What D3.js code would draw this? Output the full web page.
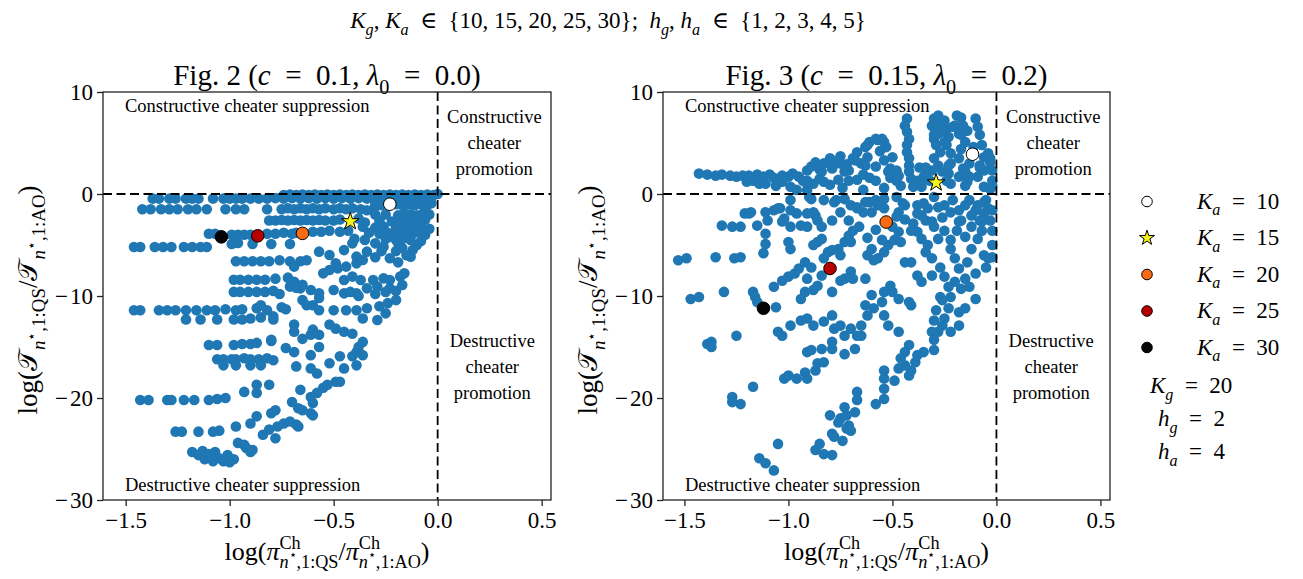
<!DOCTYPE html>
<html>
<head>
<meta charset="utf-8">
<script src="https://cdn.jsdelivr.net/npm/d3@7"></script>
<style>
  body { margin: 0; background: #fff; }
  text { font-family: "Liberation Serif", "DejaVu Serif", serif; fill: #000; }
</style>
</head>
<body>
<svg id="chart" width="1303" height="579"></svg>
<script>
// ---- data ----
const xTicks = [-1.5, -1.0, -0.5, 0.0, 0.5];
const yTicks = [10, 0, -10, -20, -30];

// Fig. 2 blue points (log ratio of cheater fraction, log ratio of T)
const fig2Rows = [
  [-0.74,-0.1],[-0.71,-0.05],[-0.68,-0.1],[-0.65,-0.05],[-0.62,-0.1],[-0.59,-0.05],[-0.56,-0.1],[-0.53,-0.05],[-0.5,-0.1],
  [-0.47,-0.05],[-0.44,-0.1],[-0.41,-0.05],[-0.38,-0.1],[-0.35,-0.05],[-0.32,-0.1],[-0.29,-0.05],[-0.26,-0.1],[-0.23,-0.05],
  [-0.2,-0.1],[-0.17,-0.05],[-0.14,-0.1],[-0.11,-0.05],[-0.08,-0.1],[-0.05,-0.05],[-0.02,-0.1],[0.0,0.0],
  [-1.37,-0.45],[-1.34,-0.45],[-1.29,-0.45],[-1.26,-0.45],[-1.21,-0.45],[-1.18,-0.45],[-1.15,-0.45],[-1.08,-0.45],[-1.03,-0.45],
  [-1.0,-0.45],[-0.97,-0.45],[-0.94,-0.45],[-0.9,-0.45],[-0.86,-0.45],[-0.82,-0.45],[-0.78,-0.4],[-0.74,-0.45],[-0.7,-0.4],
  [-0.66,-0.45],[-0.62,-0.4],[-0.58,-0.45],[-0.54,-0.4],[-0.5,-0.45],[-0.46,-0.4],[-0.42,-0.45],[-0.38,-0.4],[-0.34,-0.45],
  [-0.3,-0.4],[-0.26,-0.5],[-0.19,-0.5],[-0.15,-0.4],[-0.11,-0.5],[-0.07,-0.4],[-0.03,-0.3],
  [-1.42,-1.5],[-1.38,-1.5],[-1.33,-1.5],[-1.29,-1.5],[-1.25,-1.5],[-1.2,-1.5],[-1.16,-1.5],[-1.11,-1.5],[-1.02,-1.5],
  [-0.97,-1.5],[-0.93,-1.5],[-0.82,-1.5],[-0.75,-1.5],[-0.72,-1.4],[-0.69,-1.5],[-0.66,-1.4],[-0.63,-1.5],[-0.6,-1.4],
  [-0.57,-1.5],[-0.54,-1.4],[-0.5,-1.5],[-0.47,-1.4],[-0.44,-1.5],[-0.41,-1.4],[-0.37,-1.5],[-0.34,-1.6],[-0.3,-1.2],
  [-0.81,-2.6],[-0.78,-2.6],[-0.75,-2.55],[-0.72,-2.6],[-0.69,-2.55],[-0.66,-2.6],[-0.63,-2.55],[-0.6,-2.6],[-0.57,-2.55],
  [-0.54,-2.6],[-0.5,-2.6],[-0.47,-2.5],[-0.38,-2.4],[-0.35,-2.8],
  [-1.1,-3.9],[-1.07,-3.9],[-0.99,-4.0],[-0.96,-4.0],[-0.93,-4.0],[-0.9,-4.0],[-0.82,-3.9],[-0.78,-3.9],[-0.74,-3.8],
  [-0.7,-3.9],[-0.68,-3.8],[-0.6,-3.7],[-0.56,-3.7],[-0.52,-3.6],[-0.47,-3.7],[-0.43,-3.6],
  [-0.99,-4.9],[-0.96,-4.8],[-0.89,-4.9],[-0.8,-4.9],[-0.71,-4.9],
  [-1.46,-5.2],[-1.43,-5.2],[-1.36,-5.2],[-1.32,-5.2],[-1.28,-5.2],[-1.22,-5.2],[-1.18,-5.2],[-1.14,-5.2],[-1.11,-5.2],
  [-0.97,-6.6],[-0.93,-6.6],[-0.89,-6.6],[-0.85,-6.6],[-0.81,-6.6],[-0.76,-6.5],[-0.71,-6.6],[-0.66,-6.6],[-0.63,-6.5],
  [-0.98,-8.4],[-0.95,-8.4],[-0.91,-8.4],[-0.87,-8.4],[-0.83,-8.4],[-0.78,-8.3],[-0.72,-8.2],[-0.69,-8.6],[-0.65,-8.9],
  [-0.98,-9.6],[-0.95,-9.6],[-0.91,-9.6],[-0.87,-9.6],[-0.83,-9.6],[-0.79,-9.5],[-0.76,-9.8],
  [-1.46,-11.4],[-1.43,-11.4],[-1.34,-11.4],[-1.3,-11.4],[-1.26,-11.4],[-1.21,-11.4],[-1.16,-11.4],[-1.11,-11.4],
  [-1.07,-11.4],[-1.02,-11.3],[-0.97,-11.4],[-0.94,-11.3],[-0.87,-11.2],
  [-1.21,-12.3],[-1.14,-12.3],[-1.06,-12.3],[-0.98,-12.3],[-0.94,-12.3],[-0.9,-12.2],[-0.85,-12.1],[-0.79,-12.3],
  [-1.1,-14.8],[-1.06,-14.8],[-0.98,-14.8],[-0.94,-14.7],[-0.9,-14.7],[-0.87,-14.6],[-0.8,-14.4],
  [-1.06,-16.2],[-1.03,-16.2],[-0.99,-16.2],[-0.97,-16.2],[-0.93,-16.1],[-0.9,-16.2],[-0.86,-16.2],[-0.82,-16.1],[-0.79,-16.3],
  [-1.03,-16.8],[-0.97,-16.8],[-0.9,-16.8],[-0.85,-16.8],
  [-1.43,-20.2],[-1.39,-20.2],[-1.3,-20.2],[-1.28,-20.2],[-1.22,-20.2],[-1.17,-20.2],[-1.1,-20.2],[-1.06,-20.1],[-1.02,-20.0],
  [-1.26,-23.3],[-1.23,-23.3],[-1.15,-23.3],[-1.08,-23.3],[-1.05,-23.2],
  [-1.18,-25.3],[-1.15,-25.6],[-1.13,-25.2],[-1.12,-26.0],[-1.1,-25.5],[-1.08,-26.2],[-1.07,-25.3],[-1.05,-25.9],
  [-1.03,-26.2],[-1.01,-25.6],[-1.0,-26.3],[-0.98,-26.0]
];
const fig2Fan = [
  [-0.93,-19.4],[-0.87,-18.7],[-0.87,-19.5],[-0.81,-18.7],[-0.97,-22.8],[-0.9,-22.5],[-0.87,-21.8],[-0.8,-21.5],[-0.78,-21.2],
  [-0.84,-23.6],[-0.81,-23.1],[-0.78,-23.95],[-0.77,-22.8],[-0.74,-22.5],[-0.71,-22.3],[-0.68,-22.6],[-0.67,-22.8],
  [-0.96,-24.4],[-0.93,-24.6],[-0.92,-24.9],[-0.9,-25.3],[-0.89,-25.1],[-0.7,-20.4],[-0.66,-19.2],[-0.67,-21.0],[-0.65,-21.2],
  [-0.61,-21.5],[-0.6,-21.7],[-0.61,-19.9],[-0.6,-20.5],[-0.58,-19.5],[-0.55,-19.0],[-0.53,-18.7],[-0.49,-18.4],[-0.47,-18.4],
  [-0.57,-5.65],[-0.52,-5.98],[-0.49,-6.8],[-0.45,-5.5],[-0.41,-4.84],[-0.39,-6.14],[-0.34,-5.65],[-0.3,-4.84],[-0.26,-5.16],
  [-0.23,-4.18],[-0.19,-4.84],[-0.16,-4.18],[-0.13,-6.14],[-0.69,-7.12],[-0.52,-7.45],[-0.48,-7.29],[-0.44,-7.12],[-0.39,-6.8],
  [-0.36,-6.47],[-0.55,-7.78],[-0.45,-8.43],[-0.41,-8.1],[-0.37,-8.43],[-0.31,-8.43],[-0.26,-8.27],[-0.23,-8.43],[-0.18,-8.1],
  [-0.16,-7.78],[-0.71,-9.08],[-0.66,-9.25],[-0.61,-9.41],[-0.57,-9.74],[-0.5,-9.41],[-0.45,-9.74],[-0.39,-9.74],[-0.34,-9.25],
  [-0.29,-9.08],[-0.23,-9.25],[-0.17,-8.92],[-0.65,-10.4],[-0.6,-10.9],[-0.57,-11.4],[-0.5,-11.4],[-0.44,-11.4],[-0.39,-11.4],
  [-0.34,-11.2],[-0.28,-11.0],[-0.24,-10.7],[-0.2,-10.4],[-0.36,-12.2],[-0.29,-12.35],[-0.25,-11.7],
  [-0.69,-12.8],[-0.69,-13.5],[-0.65,-14.2],[-0.61,-13.8],[-0.6,-13.3],[-0.57,-13.8],[-0.57,-15.0],[-0.52,-12.8],[-0.49,-13.2],
  [-0.45,-13.5],[-0.41,-13.7],[-0.8,-14.3],[-0.73,-15.1],[-0.69,-15.5],[-0.68,-16.9],[-0.61,-15.8],[-0.61,-17.1],[-0.58,-17.6],
  [-0.52,-16.6],[-0.47,-15.9],[-0.45,-17.1],[-0.41,-15.9],[-0.39,-15.5],[-0.38,-15.0],[-0.36,-15.8],[-0.36,-14.5],[-0.39,-16.8],
  [-0.68,-9.2],[-0.63,-10.9],[-0.57,-10.2],[-0.42,-9.6],[-0.38,-10.0],[-0.3,-9.8],[-0.25,-9.6],[-0.2,-9.5],
  [-0.85,-10.9],[-0.82,-11.4],[-0.79,-12.0],[-0.75,-11.1],[-0.73,-11.3]
];
const fig2Corner = [
  [-0.3,-1.0],[-0.27,-1.1],[-0.2,-1.0],[-0.17,-1.1],[-0.14,-1.0],[-0.11,-1.1],[-0.08,-1.0],[-0.05,-1.1],[-0.03,-0.9],
  [-0.3,-2.0],[-0.25,-2.0],[-0.19,-2.1],[-0.16,-1.9],[-0.13,-2.0],[-0.1,-2.1],[-0.07,-1.9],[-0.04,-2.0],
  [-0.28,-2.6],[-0.22,-2.7],[-0.18,-2.6],[-0.15,-2.7],[-0.12,-2.6],[-0.09,-2.7],[-0.06,-2.5],
  [-0.36,-3.2],[-0.3,-3.3],[-0.26,-3.2],[-0.2,-3.3],[-0.17,-3.2],[-0.14,-3.3],[-0.11,-3.2],[-0.08,-3.1],
  [-0.33,-3.8],[-0.28,-3.9],[-0.24,-3.8],[-0.19,-3.9],[-0.16,-3.8],[-0.12,-3.9],[-0.09,-3.7],
  [-0.4,-4.4],[-0.35,-4.5],[-0.25,-4.4],[-0.2,-4.5],[-0.17,-4.4],[-0.13,-4.5],
  [-0.27,-5.6],[-0.2,-5.6],[-0.17,-5.3],[-0.23,-6.3],[-0.3,-6.2],[-0.19,-6.7],
  [-0.1,-5.0],[-0.12,-5.5],[-0.15,-6.0],[-0.08,-4.6],[-0.06,-4.0],[-0.04,-3.4]
];

// Fig. 3 blue points
const fig3Upper = [
  [-1.43,2.0],[-1.39,1.9],[-1.35,1.8],[-1.32,1.9],[-1.28,1.8],[-1.25,1.7],[-1.22,1.8],[-1.19,1.8],[-1.15,1.9],[-1.12,1.7],
  [-1.09,1.9],[-1.07,1.6],[-1.03,1.8],[-1.0,1.7],[-0.98,2.0],[-0.95,1.7],
  [-1.2,1.2],[-1.17,1.3],[-1.14,1.0],[-1.06,0.8],[-1.03,1.2],[-0.99,0.7],[-0.96,0.4],[-0.93,1.3],
  [-0.91,2.3],[-0.89,2.7],[-0.87,3.1],[-0.85,2.4],[-0.83,3.0],[-0.8,3.5],[-0.79,2.6],[-0.77,3.1],[-0.75,3.7],[-0.72,2.9],
  [-0.71,2.3],[-0.69,3.5],[-0.67,4.1],[-0.65,3.0],[-0.63,4.6],[-0.62,3.6],[-0.61,5.1],[-0.58,2.7],[-0.57,5.3],[-0.56,4.2],
  [-0.54,5.1],[-0.54,3.3],[-0.53,4.6],[-0.51,2.5],[-0.51,1.6],[-0.71,1.3],[-0.76,1.4],[-0.8,0.9],[-0.74,0.6],[-0.67,1.4],
  [-0.64,1.9],[-0.61,1.6],[-0.58,1.3],[-0.54,0.6],[-0.48,1.3],[-0.48,2.3],[-0.5,3.6],[-0.64,0.4],[-0.85,1.5],[-0.88,1.0],[-0.91,1.3],
  [-0.43,7.4],[-0.44,6.7],[-0.43,6.1],[-0.42,5.4],[-0.43,4.8],[-0.43,4.1],[-0.42,3.5],[-0.42,2.8],[-0.42,2.2],[-0.41,1.5],[-0.4,0.7],
  [-0.3,7.4],[-0.29,7.3],[-0.3,6.6],[-0.28,5.9],[-0.3,5.4],[-0.29,4.8],[-0.27,4.1],[-0.3,3.5],[-0.28,2.8],[-0.31,2.3],[-0.32,1.3],
  [-0.26,2.2],[-0.25,7.2],[-0.24,6.4],[-0.23,5.6],[-0.24,4.8],[-0.22,4.0],[-0.22,3.0],[-0.23,2.0],[-0.22,1.0],
  [-0.19,7.7],[-0.17,7.5],[-0.16,6.7],[-0.18,5.9],[-0.15,5.1],[-0.17,4.4],[-0.18,3.5],[-0.16,2.5],[-0.18,1.7],[-0.15,0.8],
  [-0.1,7.4],[-0.09,6.6],[-0.08,5.8],[-0.07,4.8],[-0.06,3.6],[-0.08,2.6],[-0.09,1.7],[-0.06,0.7],
  [-0.04,4.0],[-0.03,3.1],[-0.02,2.3],[-0.02,1.3],[-0.03,0.5],[-0.37,2.6],[-0.35,1.7],[-0.36,0.7],[-0.38,1.3],
  [-0.13,1.7],[-0.13,3.0],[-0.14,6.2],[-0.21,6.6],[-0.27,6.6],[-0.34,2.6],[-0.24,1.3],[-0.06,2.3],[-0.11,4.6],
  [-1.11,1.0],[-1.05,1.2],[-0.92,1.2],[-0.91,0.4],[-0.84,2.2],[-0.83,1.2],[-0.79,2.5],[-0.75,3.0],[-0.73,2.2],[-0.68,3.3],
  [-0.63,2.8],[-0.62,4.8],[-0.58,5.4],[-0.55,5.4],[-0.52,2.2],[-0.47,1.8],[-0.46,0.8],[-0.34,2.5],[-0.33,1.5],[-0.31,6.7],
  [-0.3,5.8],[-0.28,7.7],[-0.26,6.1],[-0.25,5.1],[-0.23,2.8],[-0.2,6.7],[-0.17,5.8],[-0.15,2.2],[-0.14,1.2],[-0.08,2.8],
  [-0.03,3.5],[-0.02,0.8]
];
const fig3Lower = [
  [-1.53,-6.5],[-1.49,-6.3],[-1.35,-6.2],[-1.26,-6.3],[-1.23,-6.2],[-1.12,-5.8],[-1.47,-10.3],[-1.43,-10.1],[-1.31,-9.6],
  [-1.17,-9.6],[-1.16,-10.1],[-1.15,-10.6],[-1.06,-11.1],[-1.25,-13.9],[-1.39,-14.7],[-1.37,-14.5],[-0.99,-12.9],[-0.94,-12.4],
  [-1.05,-13.5],[-1.03,-13.9],[-1.07,-9.1],[-1.03,-8.5],[-1.0,-8.1],[-0.97,-7.8],[-0.95,-7.3],[-0.92,-6.7],[-0.91,-8.3],
  [-0.89,-7.2],[-0.88,-9.4],[-0.86,-9.0],[-0.84,-8.0],[-0.83,-6.3],[-0.81,-5.7],[-0.79,-5.5],[-0.76,-5.4],[-0.75,-6.0],
  [-0.94,-10.3],[-0.92,-9.6],[-0.79,-9.6],[-0.7,-7.6],[-0.73,-8.3],[-0.75,-8.5],[-0.69,-8.3],[-0.63,-8.3],
  [-1.32,-3.1],[-1.27,-3.2],[-1.23,-3.2],[-1.11,-3.9],[-1.11,-4.9],[-1.0,-4.7],[-0.99,-5.4],[-0.88,-5.0],[-0.86,-4.7],[-0.84,-4.4],
  [-0.73,-4.7],[-0.7,-4.7],[-0.71,-4.1],[-0.62,-6.0],[-0.6,-5.4],[-0.59,-6.5],[-0.57,-6.3],[-0.54,-5.7],[-0.52,-5.0],
  [-0.49,-4.5],[-0.47,-3.7],[-0.46,-4.7],[-0.44,-6.7],[-0.41,-6.7],[-0.38,-3.7],[-0.36,-4.4],[-0.33,-5.0],[-0.34,-5.7],
  [-0.31,-6.3],[-0.38,-8.0],[-0.36,-8.6],[-0.31,-8.0],[-0.28,-4.4],[-0.25,-3.6],[-0.22,-5.4],[-0.2,-6.3],[-0.18,-7.3],
  [-0.15,-8.3],[-0.17,-9.3],[-0.14,-6.7],[-0.12,-5.4],[-0.09,-4.4],[-0.07,-3.6],[-0.06,-6.0],[-0.02,-5.0],[-0.04,-6.3],
  [-0.1,-10.3],[-0.15,-11.2],[-0.18,-11.6],[-0.23,-11.2],[-0.25,-12.2],[-0.26,-12.9],[-0.28,-13.5],[-0.22,-13.5],[-0.18,-12.9],
  [-0.41,-10.9],[-0.42,-10.6],[-0.47,-10.3],[-0.5,-9.6],[-0.51,-9.0],[-0.54,-9.6],[-0.55,-10.6],[-0.6,-9.9],[-0.59,-11.2],
  [-0.63,-10.9],[-0.62,-11.9],[-0.65,-12.9],[-0.65,-13.9],[-0.7,-13.2],[-0.67,-13.9],[-0.54,-11.9],[-0.52,-12.9],[-0.47,-13.5],
  [-1.19,-1.9],[-1.15,-3.1],[-1.11,-1.8],[-1.04,-1.4],[-1.02,-2.4],[-0.99,-3.2],[-0.96,-1.9],[-0.94,-3.1],[-0.91,-3.2],
  [-0.88,-1.8],[-0.86,-2.6],[-0.84,-3.2],[-0.79,-2.6],[-0.75,-1.8],[-0.71,-2.6],[-0.69,-3.6],[-0.67,-1.3],[-0.64,-1.8],
  [-0.61,-0.8],[-0.58,-0.6],[-0.54,-0.5],[-0.48,-0.3],[-0.45,-0.9],[-0.77,-0.6],[-0.83,-0.6],[-0.9,-0.3],[-0.99,-0.6],[-1.07,-1.6],
  [-0.3,-0.3],[-0.28,-1.3],[-0.26,-2.3],[-0.3,-3.2],[-0.21,-0.6],[-0.18,-1.6],[-0.17,-2.6],[-0.19,-3.6],[-0.13,-0.6],
  [-0.1,-1.6],[-0.08,-2.6],[-0.12,-3.2],[-0.05,-0.6],[-0.02,-1.6],[-0.03,-2.6],[-0.02,-3.6],[-0.06,-1.9],[-0.15,-4.2],
  [-0.22,-4.5],[-0.02,-6.2],[-0.05,-7.2],[-0.1,-7.8],[-0.35,-0.9],[-0.38,-1.9],[-0.34,-2.6],[-0.4,-2.9],
  [-1.37,-15.0],[-1.27,-19.9],[-1.27,-20.4],[-1.23,-20.6],[-1.17,-18.9],[-1.02,-18.1],[-1.0,-17.8],[-0.96,-18.1],
  [-0.92,-17.5],[-0.91,-18.1],[-0.87,-17.3],[-0.86,-16.6],[-0.83,-16.5],[-0.91,-15.5],[-0.89,-15.3],[-0.84,-15.2],
  [-0.79,-15.2],[-0.73,-15.7],[-0.68,-15.2],[-1.14,-25.9],[-1.11,-26.4],[-1.07,-27.1],[-1.05,-24.5],[-0.87,-25.1],
  [-0.85,-24.5],[-0.83,-25.5],[-0.79,-25.6],[-0.8,-21.7],[-0.79,-23.5],[-0.78,-23.8],[-0.76,-22.4],[-0.75,-22.0],
  [-0.73,-20.9],[-0.72,-21.7],[-0.71,-22.7],[-0.74,-24.2],[-0.7,-23.2],[-0.68,-21.4],[-0.67,-20.2],[-0.67,-19.4],[-0.72,-23.0],
  [-0.58,-20.6],[-0.54,-20.1],[-0.54,-19.1],[-0.54,-18.1],[-0.54,-17.3],[-0.49,-18.3],[-0.47,-17.1],[-0.44,-16.8],
  [-0.42,-17.8],[-0.41,-17.3],[-0.39,-16.5],[-0.38,-15.8],[-0.44,-15.5],[-0.42,-14.8],[-0.46,-16.1],[-0.35,-15.5],[-0.3,-15.3],
  [-0.91,-12.2],[-0.88,-12.9],[-0.83,-12.5],[-0.79,-11.9],[-0.78,-13.2],[-0.75,-12.9],[-0.73,-13.9],[-0.79,-14.5],
  [-0.27,-7.2],[-0.25,-8.1],[-0.23,-9.1],[-0.2,-8.6],[-0.22,-10.1],[-0.27,-10.1],[-0.29,-11.4],[-0.3,-12.4],[-0.31,-13.5],
  [-0.3,-14.3],[-0.26,-10.4],[-0.13,-9.1],
  [-0.89,-0.5],[-1.21,-1.9],[-1.18,-1.8],[-1.1,-2.6],[-1.05,-1.4],[-1.03,-2.7],[-0.99,-1.6],[-0.91,-1.9],[-0.87,-2.1],
  [-0.78,-0.8],[-0.73,-0.5],[-0.7,-1.1],[-0.67,-1.4],[-0.63,-0.8],[-0.6,-1.8],[-0.57,-1.1],[-0.54,-1.4],[-0.47,-1.8],
  [-0.44,-1.1],[-0.38,-1.1],[-0.36,-2.1],[-0.33,-1.4],[-0.31,-2.7],[-0.25,-1.1],[-0.22,-1.8],[-0.18,-2.7],[-0.15,-1.1],
  [-0.12,-2.1],[-0.09,-1.1],[-0.07,-2.7],[-0.04,-1.4],[-0.06,-0.8],
  [-0.66,-3.2],[-0.62,-4.3],[-0.58,-3.5],[-0.55,-4.5],[-0.5,-3.2],[-0.44,-2.5],[-0.41,-3.6],[-0.48,-2.2]
];

// highlighted K_a runs: [x, y] per panel
const kaLabels = ["10", "15", "20", "25", "30"];
const kaFill = ["#ffffff", "#f4f41e", "#f96a12", "#b60000", "#050505"];
const kaShape = ["circle", "star", "circle", "circle", "circle"];
const fig2Ka = [[-0.23,-1.0],[-0.42,-2.7],[-0.65,-3.86],[-0.865,-4.1],[-1.04,-4.2]];
const fig3Ka = [[-0.115,3.9],[-0.29,1.1],[-0.53,-2.75],[-0.80,-7.3],[-1.12,-11.2]];

const svg = d3.select("#chart");
const blue = "#1f77b4";
const EQ = "\u2002=\u2002";

// small helper for mathtext-like labels built from tspans
function mathText(g, x, y, size, parts, anchor) {
    const t = g.append("text")
        .attr("x", x).attr("y", y)
        .attr("font-size", size)
        .attr("text-anchor", anchor || "middle");
    let cur = 0, prev = null;
    parts.forEach(p => {
        const shift = p.shift || 0;
        const ts = t.append("tspan")
            .text(p.t)
            .attr("font-size", size * (p.scale || 1))
            .attr("dy", (cur - shift) * size);
        if (p.it) ts.attr("font-style", "italic");
        if (p.back && prev) ts.attr("dx", -prev.node().getComputedTextLength());
        cur = shift;
        prev = ts;
    });
    return t;
}
const SUP = 0.42, SUB = -0.3, SUBSUP = 0.02;

// overall title
mathText(svg, 608, 28, 23, [
    {t: "K", it: true}, {t: "g", it: true, scale: 0.7, shift: SUB},
    {t: ", "}, {t: "K", it: true}, {t: "a", it: true, scale: 0.7, shift: SUB},
    {t: "\u2002\u2208\u2002{10, 15, 20, 25, 30};\u2002"},
    {t: "h", it: true}, {t: "g", it: true, scale: 0.7, shift: SUB},
    {t: ", "}, {t: "h", it: true}, {t: "a", it: true, scale: 0.7, shift: SUB},
    {t: "\u2002\u2208\u2002{1, 2, 3, 4, 5}"}
]);

function drawPanel(opts) {
    const x = d3.scaleLinear().domain(opts.xDomain).range([opts.left, opts.right]);
    const y = d3.scaleLinear().domain([-30, 10]).range([500, 92]);
    const g = svg.append("g");

    // title
    mathText(g, (opts.left + opts.right) / 2, 85, 29, [
        {t: opts.fig + " ("}, {t: "c", it: true}, {t: EQ + opts.c + ", "},
        {t: "\u03bb", it: true}, {t: "0", scale: 0.7, shift: SUB}, {t: EQ + opts.lam + ")"}
    ]);

    // points
    g.append("g").selectAll("circle")
        .data(opts.points)
        .enter()
        .append("circle")
        .attr("cx", d => x(d[0]))
        .attr("cy", d => y(d[1]))
        .attr("r", 5.3)
        .attr("fill", blue);

    // quadrant lines
    g.append("line")
        .attr("x1", opts.left).attr("x2", opts.right)
        .attr("y1", y(0)).attr("y2", y(0))
        .attr("stroke", "#000").attr("stroke-width", 1.8).attr("stroke-dasharray", "9,4.5");
    g.append("line")
        .attr("x1", x(0)).attr("x2", x(0))
        .attr("y1", 92).attr("y2", 500)
        .attr("stroke", "#000").attr("stroke-width", 1.8).attr("stroke-dasharray", "9,4.5");

    // highlighted K_a points
    opts.ka.forEach((d, i) => {
        if (kaShape[i] === "star") {
            g.append("path")
                .attr("d", d3.symbol().type(d3.symbolStar).size(95)())
                .attr("transform", `translate(${x(d[0])},${y(d[1])})`)
                .attr("fill", kaFill[i]).attr("stroke", "#000").attr("stroke-width", 1);
        } else {
            g.append("circle")
                .attr("cx", x(d[0])).attr("cy", y(d[1])).attr("r", 6.3)
                .attr("fill", kaFill[i]).attr("stroke", "#000").attr("stroke-width", 1);
        }
    });

    // axes
    const minus = s => s.replace("-", "\u2212\u200a");
    const xAxis = g.append("g")
        .attr("transform", `translate(0,500)`)
        .call(d3.axisBottom(x).tickValues(xTicks).tickSize(6).tickPadding(6)
            .tickFormat(d => minus(d3.format(".1f")(d))));
    const yAxis = g.append("g")
        .attr("transform", `translate(${opts.left},0)`)
        .call(d3.axisLeft(y).tickValues(yTicks).tickSize(6).tickPadding(4)
            .tickFormat(d => minus(String(d))));
    [xAxis, yAxis].forEach(a => {
        a.select(".domain").remove();
        a.selectAll("line").attr("stroke", "#222").attr("stroke-width", 1.3);
        a.selectAll("text").attr("font-size", 23)
            .attr("font-family", "Liberation Serif, DejaVu Serif, serif");
    });
    g.append("rect")
        .attr("x", opts.left).attr("y", 92)
        .attr("width", opts.right - opts.left).attr("height", 408)
        .attr("fill", "none").attr("stroke", "#222").attr("stroke-width", 1.3);

    // quadrant notes
    const midR = (x(0) + opts.right) / 2;
    g.append("text").attr("x", opts.left + 22).attr("y", 112).attr("font-size", 18.5)
        .text("Constructive cheater suppression");
    g.append("text").attr("x", opts.left + 22).attr("y", 491).attr("font-size", 18.5)
        .text("Destructive cheater suppression");
    ["Constructive", "cheater", "promotion"].forEach((s, i) => {
        g.append("text").attr("x", midR).attr("y", 123 + i * 26).attr("font-size", 18.5)
            .attr("text-anchor", "middle").text(s);
    });
    ["Destructive", "cheater", "promotion"].forEach((s, i) => {
        g.append("text").attr("x", midR - 2).attr("y", 347 + i * 26).attr("font-size", 18.5)
            .attr("text-anchor", "middle").text(s);
    });

    // axis labels
    const ratio = (sym, symIt, sup) => {
        const out = [{t: sym, it: symIt}];
        if (sup) out.push({t: sup, scale: 0.7, shift: SUP});
        return out;
    };
    const subPart = (tag, back) => [
        {t: "n", it: true, scale: 0.7, shift: SUB, back: back},
        {t: "\u22c6", scale: 0.5, shift: SUBSUP},
        {t: ",1:" + tag, scale: 0.7, shift: SUB}
    ];
    mathText(g, (opts.left + opts.right) / 2, 560, 26, [{t: "log("}]
        .concat(ratio("\u03c0", true, "Ch"), subPart("QS", true), [{t: "/", shift: 0}],
            ratio("\u03c0", true, "Ch"), subPart("AO", true), [{t: ")", shift: 0}]));

    const yl = g.append("g").attr("transform", `translate(${opts.left - 66},300) rotate(-90)`);
    mathText(yl, 0, 0, 27, [{t: "log("}]
        .concat(ratio("\ud835\udcaf", false), subPart("QS", false), [{t: "/", shift: 0}],
            ratio("\ud835\udcaf", false), subPart("AO", false), [{t: ")", shift: 0}]));
}

drawPanel({fig: "Fig. 2", c: "0.1", lam: "0.0", left: 103, right: 551, xDomain: [-1.609, 0.545],
    points: fig2Rows.concat(fig2Fan, fig2Corner), ka: fig2Ka});
drawPanel({fig: "Fig. 3", c: "0.15", lam: "0.2", left: 663, right: 1110, xDomain: [-1.603, 0.546],
    points: fig3Upper.concat(fig3Lower), ka: fig3Ka});

// legend
const leg = svg.append("g");
kaLabels.forEach((lab, i) => {
    const cy = 201.5 + i * 36.5;
    if (kaShape[i] === "star") {
        leg.append("path")
            .attr("d", d3.symbol().type(d3.symbolStar).size(70)())
            .attr("transform", `translate(1147,${cy})`)
            .attr("fill", kaFill[i]).attr("stroke", "#000").attr("stroke-width", 1);
    } else {
        leg.append("circle").attr("cx", 1147).attr("cy", cy).attr("r", 5.3)
            .attr("fill", kaFill[i]).attr("stroke", "#000").attr("stroke-width", 1);
    }
    mathText(leg, 1197, cy + 7, 23, [
        {t: "K", it: true}, {t: "a", it: true, scale: 0.7, shift: SUB}, {t: EQ + lab, shift: 0}
    ], "start");
});
const fixedParams = [["K", "g", "20", 1150, 393], ["h", "g", "2", 1158, 426], ["h", "a", "4", 1158, 459]];
fixedParams.forEach(p => {
    mathText(leg, p[3], p[4], 23, [
        {t: p[0], it: true}, {t: p[1], it: true, scale: 0.7, shift: SUB}, {t: EQ + p[2], shift: 0}
    ], "start");
});
</script>
</body>
</html>
